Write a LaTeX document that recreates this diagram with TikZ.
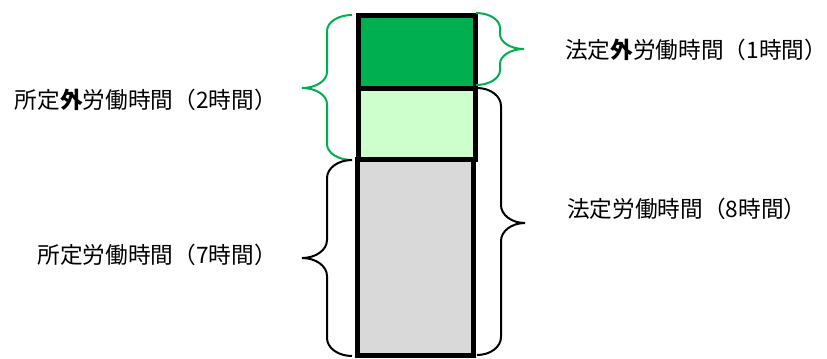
\documentclass[tikz,border=0pt]{standalone}
\usepackage{fontspec}
\newfontfamily\jp{Noto Sans CJK JP}
\definecolor{dkgreen}{HTML}{00B050}
\definecolor{ltgreen}{HTML}{CCFFCC}
\definecolor{barGray}{HTML}{D9D9D9}

% pixel coordinates, y downwards
\def\overbox{(358,15) rectangle (475,88)}
\def\extrabox{(358,88) rectangle (475,159)}
\def\basebox{(357,159) rectangle (473,355)}
% brace: end x, tip x, top y, tip y, bottom y, curl
\newcommand\wbrace[6]{(#1,#3)
  .. controls ({#1+0.28*(#2-#1)},#3) and ({(#1+#2)/2},{#3+0.45*#6}) .. ({(#1+#2)/2},{#3+#6})
  -- ({(#1+#2)/2},{#4-#6})
  .. controls ({(#1+#2)/2},{#4-0.45*#6}) and ({#2-0.28*(#2-#1)},#4) .. (#2,#4)
  .. controls ({#2-0.28*(#2-#1)},#4) and ({(#1+#2)/2},{#4+0.45*#6}) .. ({(#1+#2)/2},{#4+#6})
  -- ({(#1+#2)/2},{#5-#6})
  .. controls ({(#1+#2)/2},{#5-0.45*#6}) and ({#1+0.28*(#2-#1)},#5) .. (#1,#5)}

\begin{document}
\begin{tikzpicture}[x=0.75pt,y=-0.75pt,
    bar/.style={line width=3.75pt, line join=miter},
    brc/.style={line width=1.5pt},
    lbl/.style={font=\jp\fontsize{17}{20}\selectfont, inner sep=0pt}]
  \useasboundingbox (0,0) rectangle (827,358);
  \draw[bar, fill=barGray] \basebox;
  \draw[bar, fill=ltgreen] \extrabox;
  \draw[bar, fill=dkgreen] \overbox;
  \draw[brc, dkgreen] \wbrace{352}{302}{15}{88}{160}{16};
  \draw[brc, dkgreen] \wbrace{476}{524}{13}{49}{85}{15};
  \draw[brc] \wbrace{477}{525}{88}{223}{355}{18};
  \draw[brc] \wbrace{352}{302}{160}{258}{356}{18};
  \node[lbl, anchor=east] (shoteigai) at (277,100) {所定\textbf{外}労働時間（2時間）};
  \node[lbl, anchor=west] (hoteigai) at (565,50) {法定\textbf{外}労働時間（1時間）};
  \node[lbl, anchor=east] (shotei) at (277,255) {所定労働時間（7時間）};
  \node[lbl, anchor=west] (hotei) at (567,209) {法定労働時間（8時間）};
\end{tikzpicture}
\end{document}
